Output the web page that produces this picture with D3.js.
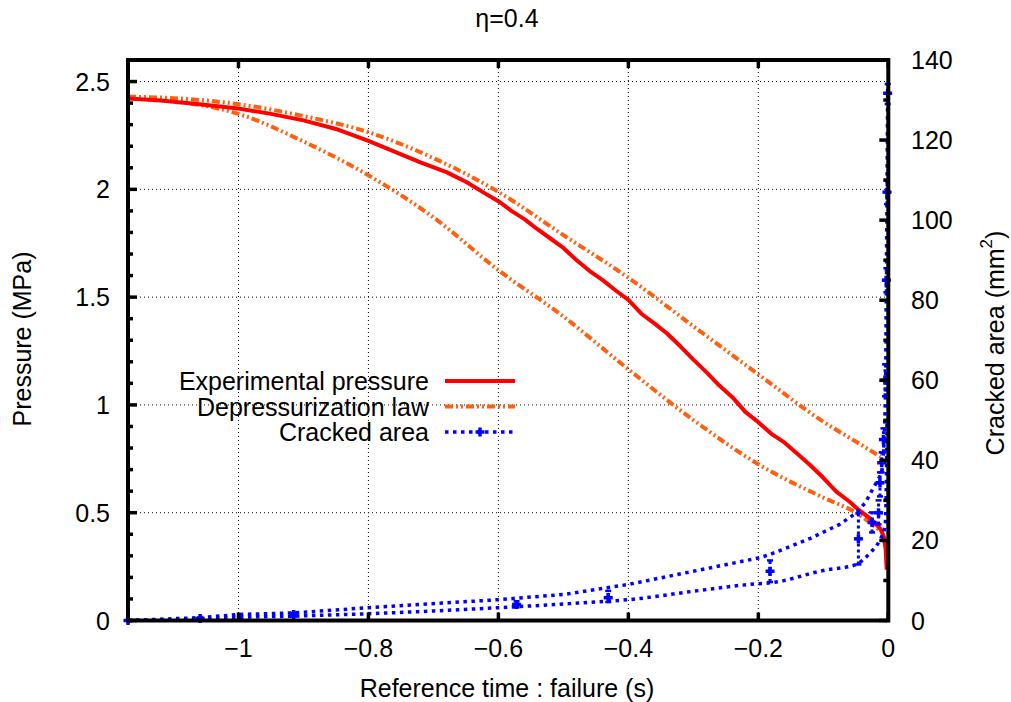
<!DOCTYPE html>
<html><head><meta charset="utf-8">
<script src="https://cdn.jsdelivr.net/npm/d3@7"></script>
<style>
body{margin:0;background:#fff}
text{font-family:"Liberation Sans",Arial,Helvetica,sans-serif;fill:#000}
</style>
</head><body>
<svg id="chart" width="1011" height="702"></svg>
<script>
// ---------- data ----------
const titleText = "η=0.4";
const xTicks = [-1, -0.8, -0.6, -0.4, -0.2, 0];
const xTickLabels = ["−1", "−0.8", "−0.6", "−0.4", "−0.2", "0"];
const yTicks = [0, 0.5, 1, 1.5, 2, 2.5];
const yTickLabels = ["0", "0.5", "1", "1.5", "2", "2.5"];
const y2Ticks = [0, 20, 40, 60, 80, 100, 120, 140];
const y2TickLabels = ["0", "20", "40", "60", "80", "100", "120", "140"];
const legendLabels = ["Experimental pressure", "Depressurization law", "Cracked area"];

// Experimental pressure (MPa)
const expT = [-1.17,-1.12,-1.06,-1.0,-0.95,-0.9,-0.85,-0.8,-0.76,-0.72,-0.68,-0.65,-0.62,-0.6,-0.58,-0.56,-0.54,-0.52,-0.5,-0.48,-0.46,-0.44,-0.42,-0.4,-0.38,-0.36,-0.34,-0.32,-0.3,-0.28,-0.26,-0.24,-0.22,-0.2,-0.18,-0.16,-0.14,-0.12,-0.1,-0.08,-0.06,-0.045,-0.03,-0.02,-0.012,-0.007,-0.004,-0.0025];
const expP = [2.421,2.412,2.395,2.375,2.35,2.32,2.28,2.225,2.175,2.125,2.08,2.035,1.98,1.945,1.9,1.862,1.815,1.772,1.728,1.672,1.622,1.58,1.532,1.487,1.423,1.378,1.33,1.272,1.21,1.152,1.09,1.036,0.968,0.92,0.866,0.826,0.774,0.72,0.662,0.598,0.552,0.512,0.478,0.45,0.425,0.39,0.33,0.236];

// Depressurization law, upper and lower bounds (MPa)
const lawUpT = [-1.17,-1.1,-1.0,-0.9,-0.8,-0.7,-0.6,-0.5,-0.4,-0.3,-0.2,-0.1,-0.05,-0.012];
const lawUpP = [2.43,2.423,2.395,2.34,2.265,2.145,1.988,1.788,1.59,1.365,1.142,0.922,0.83,0.76];
const lawLowT = [-1.17,-1.1,-1.0,-0.9,-0.8,-0.7,-0.6,-0.5,-0.4,-0.3,-0.2,-0.1,-0.05,-0.012];
const lawLowP = [2.43,2.41,2.35,2.222,2.065,1.87,1.625,1.41,1.165,0.93,0.725,0.57,0.5,0.415];

// Cracked area (mm²): upper and lower envelopes, and measured points with bars
const crackUpT = [-1.17,-1.06,-1.0,-0.915,-0.8,-0.6,-0.5,-0.444,-0.4,-0.3,-0.2,-0.182,-0.12,-0.075,-0.049,-0.035,-0.023,-0.01,-0.007,-0.005,-0.004,-0.003,-0.002,-0.001];
const crackUpA = [0,0.7,1.5,1.9,3.2,5.2,6.5,7.9,9.0,12.3,15.6,16.5,20.5,24,26.9,29.5,33.1,36.9,42.7,52,62,85,107,132];
const crackLowT = [-1.17,-1.06,-1.0,-0.915,-0.8,-0.6,-0.444,-0.4,-0.3,-0.2,-0.182,-0.1,-0.049,-0.04,-0.028,-0.0128,-0.005,-0.003,-0.002];
const crackLowA = [0,0.4,0.8,1.1,1.7,3.2,4.7,5.2,7.3,9.2,9.4,12.5,14.0,15.0,16.9,20.2,23.5,35,50];
const markT  = [-1.17,-1.059,-0.915,-0.572,-0.431,-0.182,-0.046,-0.025,-0.015,-0.0128,-0.0102,-0.0075,-0.005,-0.003,-0.002,-0.001];
const markA  = [0,0.5,1.5,4.0,5.7,12.3,20.4,24.5,26.9,34.4,39.4,45.2,60,85,107,131.7];
const markLo = [0,0.2,1.0,3.3,4.6,9.6,14.0,22,24,31,37,42,56,82,104,129];
const markHi = [0,0.8,1.9,4.8,7.4,15.0,26.8,27,30,37,42,48,64,88,110,134];

// ---------- layout ----------
const L = 128, R = 888.3, T = 60, B = 620.5;
const FS = 25;
const red = "#ff0000", orange = "#ff6010", blue = "#0000ff";

const svg = d3.select("#chart");
const x = d3.scaleLinear().domain([-1.17, 0]).range([L, R]);
const y = d3.scaleLinear().domain([0, 2.6]).range([B, T]);
const y2 = d3.scaleLinear().domain([0, 140]).range([B, T]);

// grid
const grid = svg.append("g").attr("stroke", "#000").attr("stroke-width", 1).attr("stroke-dasharray", "1,3");
grid.selectAll("line.gx").data(xTicks.filter(d => d !== 0)).join("line")
  .attr("x1", d => x(d)).attr("x2", d => x(d)).attr("y1", T).attr("y2", B);
grid.selectAll("line.gy").data(yTicks.filter(d => d !== 0)).join("line")
  .attr("y1", d => y(d)).attr("y2", d => y(d)).attr("x1", L).attr("x2", R);

// lines
const lineP = (ts, vs, curve) => d3.line().x((d, i) => x(ts[i])).y((d, i) => y(vs[i])).curve(curve)(ts);
const lineA = (ts, vs, curve) => d3.line().x((d, i) => x(ts[i])).y((d, i) => y2(vs[i])).curve(curve)(ts);

const orangeDash = "8,3,2,3,2,3";
const blueDash = "3.5,4.5";

svg.append("path").attr("d", lineP(lawUpT, lawUpP, d3.curveMonotoneX))
  .attr("fill", "none").attr("stroke", orange).attr("stroke-width", 4).attr("stroke-dasharray", orangeDash);
svg.append("path").attr("d", lineP(lawLowT, lawLowP, d3.curveMonotoneX))
  .attr("fill", "none").attr("stroke", orange).attr("stroke-width", 4).attr("stroke-dasharray", orangeDash);
svg.append("path").attr("d", lineP(expT, expP, d3.curveLinear))
  .attr("fill", "none").attr("stroke", red).attr("stroke-width", 4).attr("stroke-linejoin", "round");

svg.append("path").attr("d", lineA(crackUpT, crackUpA, d3.curveLinear))
  .attr("fill", "none").attr("stroke", blue).attr("stroke-width", 3.5).attr("stroke-dasharray", blueDash);
svg.append("path").attr("d", lineA(crackLowT, crackLowA, d3.curveMonotoneX))
  .attr("fill", "none").attr("stroke", blue).attr("stroke-width", 3.5).attr("stroke-dasharray", blueDash);

// markers with error bars
const mk = svg.append("g").attr("stroke", blue).attr("fill", "none");
markT.forEach((t, i) => {
  const cx = x(t), cy = y2(markA[i]);
  const ylo = y2(markLo[i]), yhi = y2(markHi[i]);
  mk.append("line").attr("x1", cx).attr("x2", cx).attr("y1", ylo).attr("y2", yhi)
    .attr("stroke-width", 3).attr("stroke-dasharray", "3,3");
  mk.append("line").attr("x1", cx - 3).attr("x2", cx + 3).attr("y1", yhi).attr("y2", yhi).attr("stroke-width", 2.5);
  mk.append("line").attr("x1", cx - 3).attr("x2", cx + 3).attr("y1", ylo).attr("y2", ylo).attr("stroke-width", 2.5);
  mk.append("line").attr("x1", cx - 4.5).attr("x2", cx + 4.5).attr("y1", cy).attr("y2", cy).attr("stroke-width", 3.5);
  mk.append("line").attr("x1", cx).attr("x2", cx).attr("y1", cy - 4.5).attr("y2", cy + 4.5).attr("stroke-width", 3.5);
});

// border
svg.append("rect").attr("x", L).attr("y", T).attr("width", R - L).attr("height", B - T)
  .attr("fill", "none").attr("stroke", "#000").attr("stroke-width", 4);

// ticks
const tk = svg.append("g").attr("stroke", "#000").attr("stroke-width", 3.5);
xTicks.forEach(d => {
  tk.append("line").attr("x1", x(d)).attr("x2", x(d)).attr("y1", B).attr("y2", B - 8);
  tk.append("line").attr("x1", x(d)).attr("x2", x(d)).attr("y1", T).attr("y2", T + 8);
});
d3.range(0, 26).map(i => i / 10).forEach(v => {
  const major = Math.abs(v * 2 - Math.round(v * 2)) < 1e-9;
  tk.append("line").attr("x1", L).attr("x2", L + (major ? 9 : 5)).attr("y1", y(v)).attr("y2", y(v));
});
d3.range(0, 15).map(i => i * 10).forEach(v => {
  const major = v % 20 === 0;
  tk.append("line").attr("x1", R).attr("x2", R - (major ? 9 : 5)).attr("y1", y2(v)).attr("y2", y2(v));
});

// tick labels
const tl = svg.append("g").style("font-size", FS + "px");
xTicks.forEach((d, i) => tl.append("text").attr("x", x(d)).attr("y", 648)
  .attr("text-anchor", "middle").attr("dominant-baseline", "central").text(xTickLabels[i]));
yTicks.forEach((d, i) => tl.append("text").attr("x", 110).attr("y", y(d))
  .attr("text-anchor", "end").attr("dominant-baseline", "central").text(yTickLabels[i]));
y2Ticks.forEach((d, i) => tl.append("text").attr("x", 911).attr("y", y2(d))
  .attr("text-anchor", "start").attr("dominant-baseline", "central").text(y2TickLabels[i]));

// titles
svg.append("text").attr("x", 507).attr("y", 18).attr("text-anchor", "middle")
  .attr("dominant-baseline", "central").style("font-size", FS + "px").text(titleText);
svg.append("text").attr("x", 507).attr("y", 688).attr("text-anchor", "middle")
  .attr("dominant-baseline", "central").style("font-size", FS + "px").text("Reference time : failure (s)");
svg.append("text").attr("transform", "translate(22,339) rotate(-90)").attr("text-anchor", "middle")
  .attr("dominant-baseline", "central").style("font-size", FS + "px").text("Pressure (MPa)");
const rt = svg.append("text").attr("transform", "translate(995,343) rotate(-90)").attr("text-anchor", "middle")
  .attr("dominant-baseline", "central").style("font-size", FS + "px");
rt.append("tspan").text("Cracked area (mm");
rt.append("tspan").attr("dy", -9).style("font-size", "17px").text("2");
rt.append("tspan").attr("dy", 9).text(")");

// legend
const legY = [381, 406.5, 432];
const lg = svg.append("g");
legendLabels.forEach((s, i) => lg.append("text").attr("x", 429).attr("y", legY[i])
  .attr("text-anchor", "end").attr("dominant-baseline", "central").style("font-size", FS + "px").text(s));
lg.append("line").attr("x1", 445).attr("x2", 515).attr("y1", legY[0]).attr("y2", legY[0])
  .attr("stroke", red).attr("stroke-width", 4);
lg.append("line").attr("x1", 445).attr("x2", 515).attr("y1", legY[1]).attr("y2", legY[1])
  .attr("stroke", orange).attr("stroke-width", 4).attr("stroke-dasharray", orangeDash);
lg.append("line").attr("x1", 445).attr("x2", 515).attr("y1", legY[2]).attr("y2", legY[2])
  .attr("stroke", blue).attr("stroke-width", 3.5).attr("stroke-dasharray", blueDash);
lg.append("line").attr("x1", 475.5).attr("x2", 484.5).attr("y1", legY[2]).attr("y2", legY[2])
  .attr("stroke", blue).attr("stroke-width", 3.5);
lg.append("line").attr("x1", 480).attr("x2", 480).attr("y1", legY[2] - 4.5).attr("y2", legY[2] + 4.5)
  .attr("stroke", blue).attr("stroke-width", 3.5);
</script>
</body></html>
